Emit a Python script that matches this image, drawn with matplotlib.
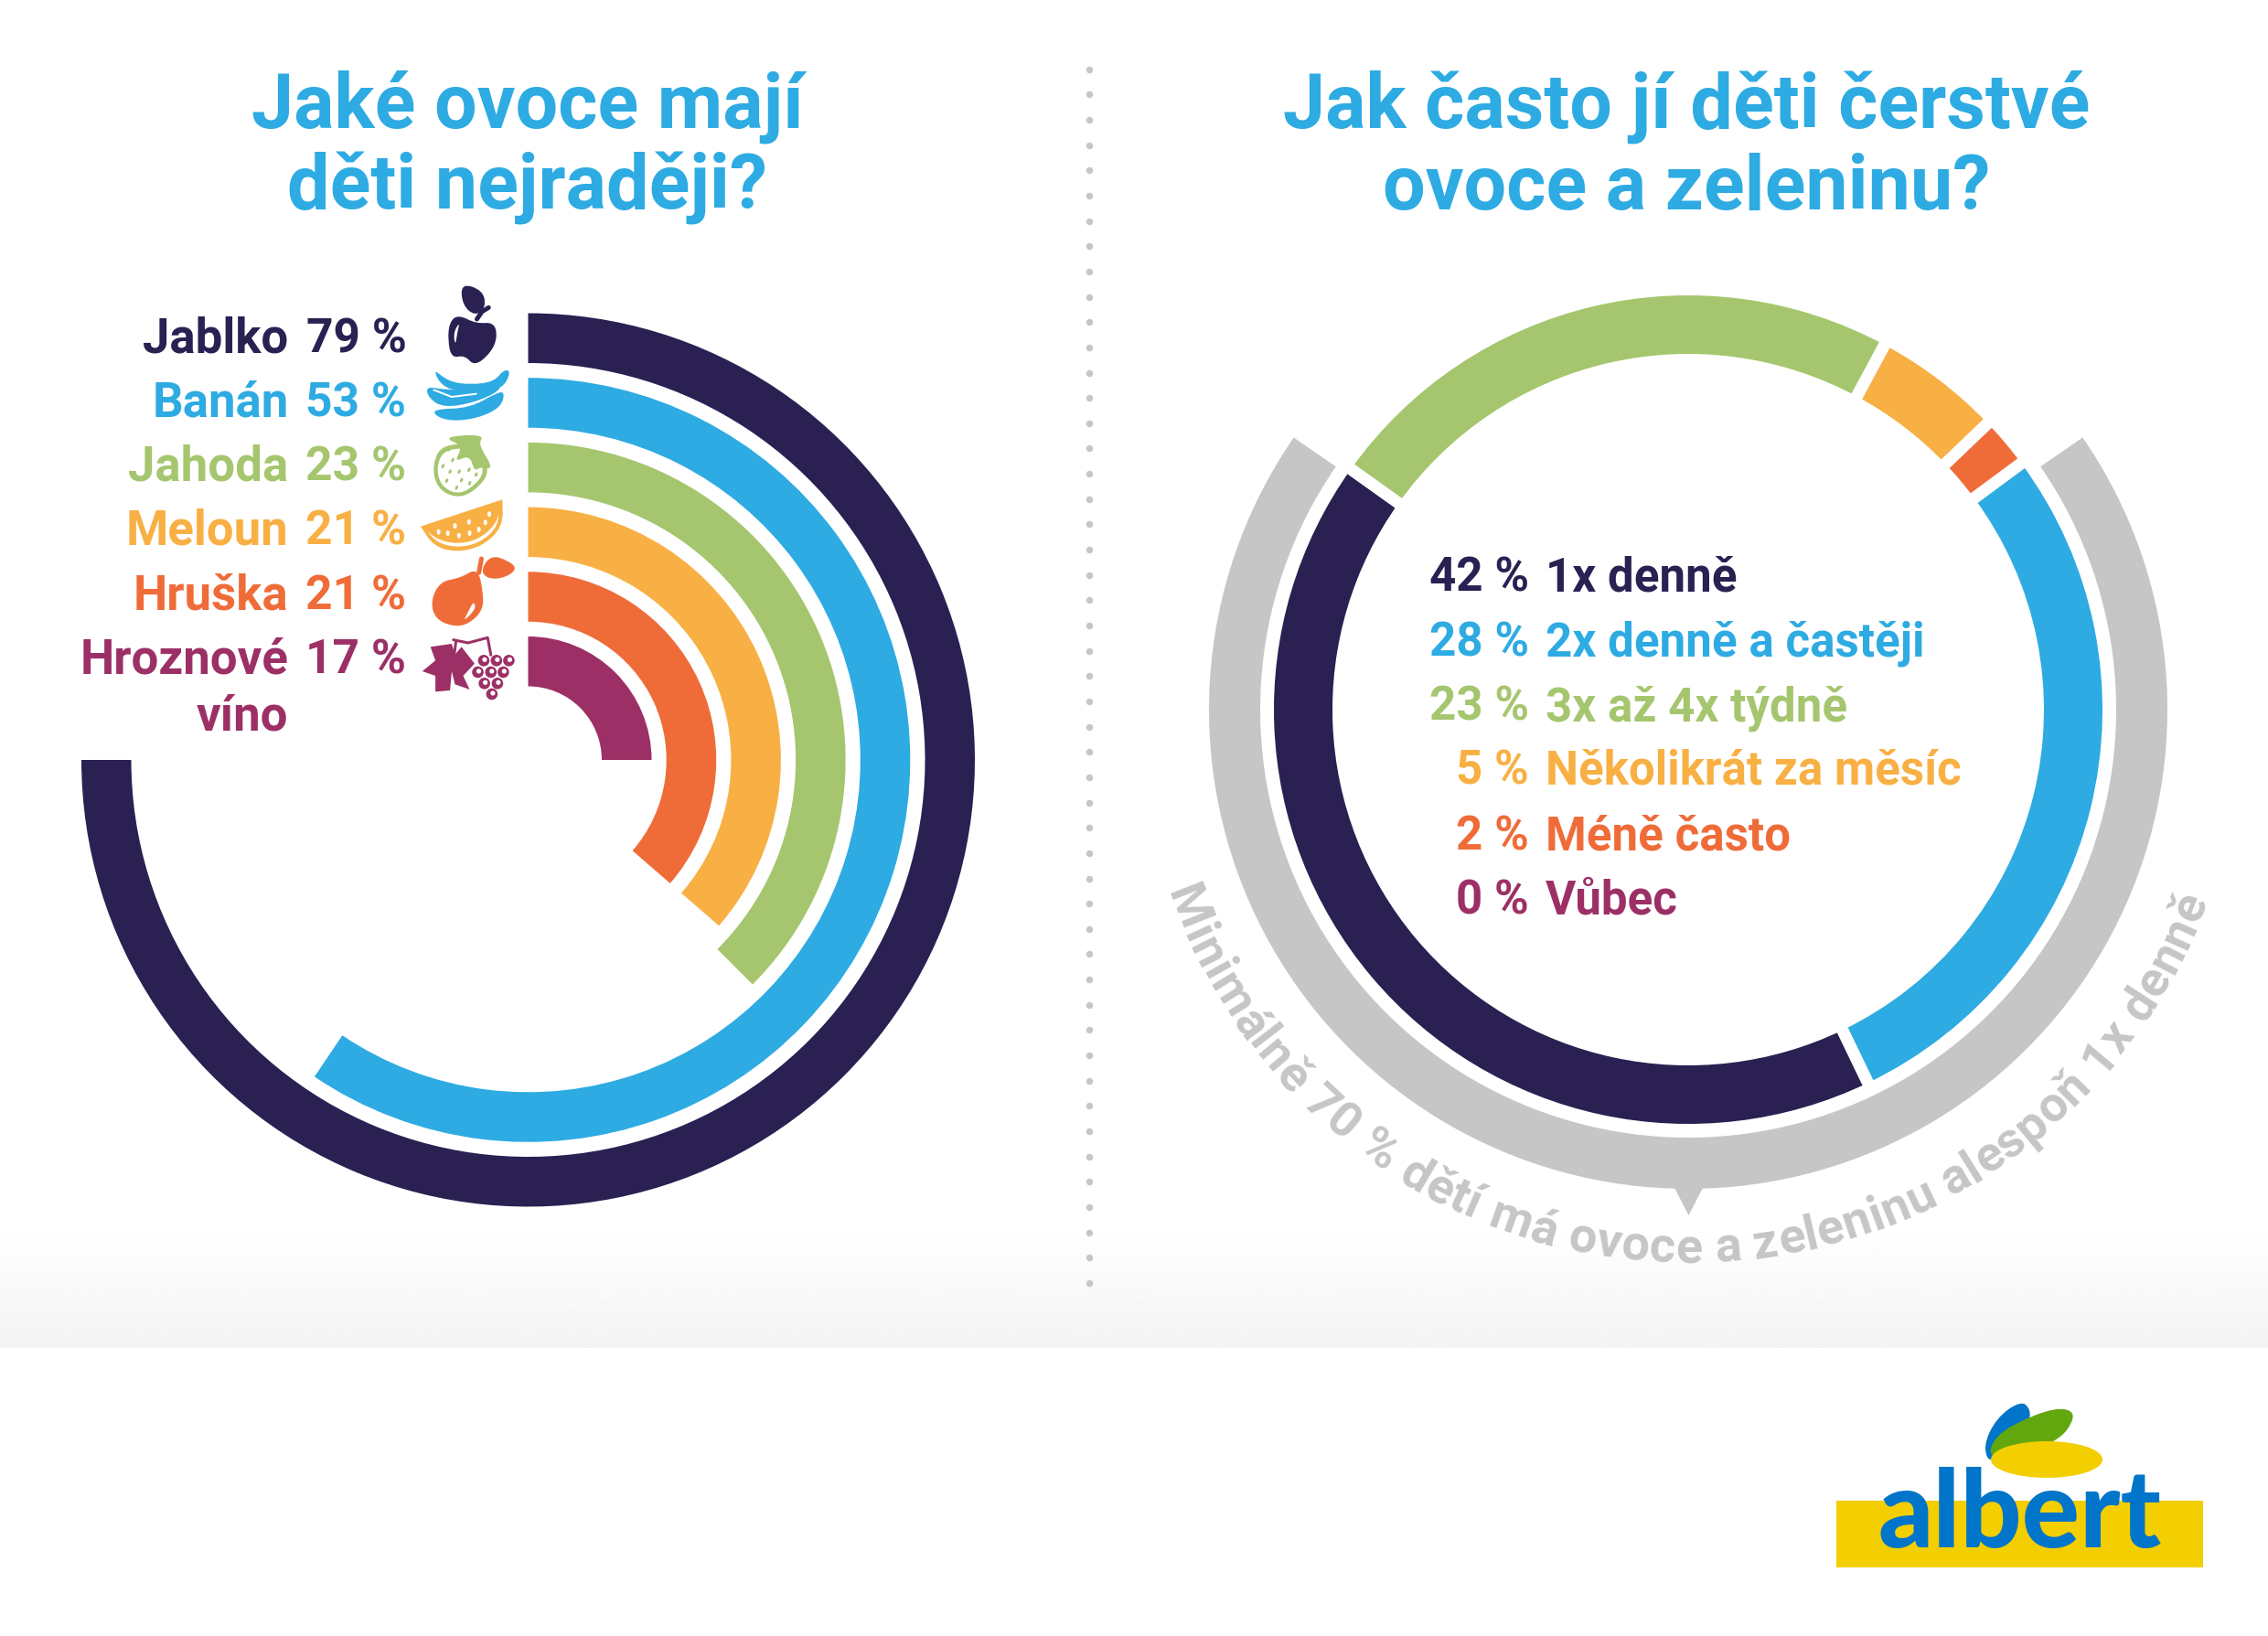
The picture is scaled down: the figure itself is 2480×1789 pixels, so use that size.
import numpy as np
import matplotlib
matplotlib.use('Agg')
import matplotlib.pyplot as plt
from matplotlib.path import Path
from matplotlib.patches import PathPatch, Circle, Ellipse, Polygon, Rectangle
from matplotlib.font_manager import FontProperties

W, H = 2480, 1790

# left chart
fruit_names = ['Jablko', 'Banán', 'Jahoda', 'Meloun', 'Hruška', 'Hroznové\nvíno']
fruit_pct = [79, 53, 23, 21, 21, 17]
# the sweep in the picture does not follow the percent, so it is read off separately
fruit_sweep = [270, 214, 135, 131, 131, 90]
fruit_colors = ['#2A2052', '#2DABE2', '#A5C66E', '#F8B044', '#EF6C39', '#9C3066']

# right chart
freq_names = ['1x denně', '2x denně a častěji', '3x až 4x týdně', 'Několikrát za měsíc', 'Méně často', 'Vůbec']
freq_pct = [42, 28, 23, 5, 2, 0]
freq_colors = ['#2A2052', '#2DABE2', '#A5C66E', '#F8B044', '#EF6C39', '#9C3066']
# clockwise order of the ring, starting from blue
ring_order = [1, 0, 2, 3, 4]

grey_from, grey_to = 55.4, 304.6
note = 'Minimálně 70 % dětí má ovoce a zeleninu alespoň 1x denně'

BLUE = '#2DABE2'
GREY = '#C6C6C6'
FONT = 'Roboto'
LABEL = 51.5


def px(v):
    return v * 72 / 100


def polar_ax(cx, cy, R):
    ax = fig.add_axes([(cx - R) / W, 1 - (cy + R) / H, 2 * R / W, 2 * R / H], projection='polar')
    ax.set_theta_zero_location('N')
    ax.set_theta_direction(-1)
    ax.set_ylim(0, R)
    ax.axis('off')
    ax.patch.set_alpha(0)
    return ax


def smooth(pts, color, zorder=5):
    pts = np.array(pts, float)
    n = len(pts)
    verts = [(pts[0] + pts[1]) / 2]
    codes = [Path.MOVETO]
    for i in range(1, n + 1):
        verts.append(pts[i % n])
        verts.append((pts[i % n] + pts[(i + 1) % n]) / 2)
        codes += [Path.CURVE3, Path.CURVE3]
    p = PathPatch(Path(verts, codes), fc=color, ec='none', zorder=zorder)
    main.add_patch(p)


def ic(pts):
    return [(60 + x / 2.8, 290 + y / 3) for x, y in pts]


def lg(pts):
    return [(1950 + x / 2.958, 1480 + y / 2.958) for x, y in pts]


def stroke(pts, color, lw, zorder=6):
    xy = np.array(pts)
    main.plot(xy[:, 0], xy[:, 1], color=color, lw=px(lw), solid_capstyle='round', zorder=zorder)


def draw_icons():
    navy, blue, green, orange, red, purple = fruit_colors
    # apple
    smooth(ic([(1235, 165), (1290, 195), (1345, 190), (1355, 240), (1335, 290), (1285, 335), (1255, 298),
               (1215, 308), (1203, 250), (1208, 190)]), navy)
    smooth(ic([(1240, 188), (1220, 225), (1226, 268), (1232, 225)]), 'white', 6)
    stroke(ic([(1292, 180), (1308, 155), (1328, 142)]), navy, 5)
    smooth(ic([(1243, 62), (1310, 85), (1320, 140), (1288, 170), (1248, 135)]), navy)
    # banana
    smooth(ic([(1155, 340), (1205, 385), (1275, 395), (1345, 385), (1375, 345), (1397, 352), (1370, 410),
               (1290, 422), (1190, 410)]), blue)
    smooth(ic([(1135, 400), (1195, 412), (1280, 412), (1360, 385), (1365, 415), (1280, 455), (1190, 470),
               (1145, 440)]), blue)
    stroke(ic([(1160, 412), (1215, 435), (1290, 425)]), 'white', 2)
    smooth(ic([(1160, 475), (1270, 472), (1355, 420), (1378, 420), (1365, 470), (1295, 505), (1215, 515),
               (1165, 498)]), blue)
    # strawberry
    smooth(ic([(1185, 590), (1295, 590), (1335, 680), (1285, 745), (1230, 768), (1170, 735), (1155, 660)]), green)
    smooth(ic([(1195, 605), (1285, 605), (1320, 680), (1275, 735), (1230, 755), (1180, 725), (1168, 660)]), 'white', 6)
    for x, y in [(1207, 607), (1218, 642), (1188, 662), (1210, 680), (1238, 680), (1268, 674), (1200, 710),
                 (1245, 708), (1270, 718), (1230, 733), (1290, 690)]:
        main.add_patch(Ellipse(ic([(x, y)])[0], 3, 5, angle=25, fc=green, ec='none', zorder=7))
    smooth(ic([(1195, 572), (1240, 560), (1315, 562), (1295, 590), (1345, 672), (1300, 665), (1285, 680),
               (1270, 625), (1222, 650), (1250, 595)]), green, 8)
    # melon
    smooth(ic([(1120, 860), (1120, 860), (1370, 772), (1370, 772), (1372, 860), (1310, 925), (1230, 945),
               (1160, 925)]), orange)
    smooth(ic([(1135, 868), (1135, 868), (1358, 790), (1358, 790), (1358, 860), (1300, 915), (1230, 930),
               (1168, 912)]), 'white', 6)
    smooth(ic([(1125, 860), (1125, 860), (1365, 775), (1365, 775), (1355, 850), (1295, 905), (1225, 918),
               (1165, 900)]), orange, 7)
    for x, y in [(1175, 878), (1203, 882), (1225, 858), (1237, 890), (1268, 845), (1270, 882), (1298, 870),
                 (1318, 847), (1330, 820)]:
        main.add_patch(Ellipse(ic([(x, y)])[0], 4, 6, fc='white', ec='none', zorder=8))
    # pear
    smooth(ic([(1240, 1030), (1295, 995), (1312, 1080), (1310, 1135), (1270, 1178), (1225, 1190), (1165, 1165),
               (1150, 1105), (1180, 1040)]), red)
    smooth(ic([(1282, 1105), (1290, 1130), (1248, 1175), (1268, 1135)]), 'white', 6)
    stroke(ic([(1306, 966), (1298, 1012)]), red, 5)
    smooth(ic([(1305, 1000), (1335, 955), (1385, 970), (1418, 1000), (1370, 1032), (1320, 1030)]), red)
    # grapes
    main.add_patch(Polygon(ic([(1125, 1335), (1165, 1300), (1150, 1255), (1215, 1245), (1225, 1280), (1245, 1255),
                               (1285, 1310), (1250, 1350), (1270, 1395), (1225, 1378), (1215, 1335), (1210, 1398),
                               (1165, 1402), (1165, 1350)]), fc=purple, ec='none', zorder=5))
    stroke(ic([(1220, 1232), (1265, 1242), (1325, 1225), (1335, 1282)]), purple, 3)
    stroke(ic([(1228, 1238), (1222, 1285)]), purple, 3)
    for x, y in [(1313, 1300), (1352, 1300), (1390, 1300), (1295, 1338), (1335, 1338), (1373, 1338), (1315, 1375),
                 (1355, 1375), (1338, 1410)]:
        c = ic([(x, y)])[0]
        main.add_patch(Circle(c, 6.3, fc=purple, ec='none', zorder=5))
        main.add_patch(Circle((c[0] + 1, c[1] - 1), 2.6, fc='white', ec='none', zorder=6))


def draw_logo():
    main.add_patch(Rectangle((2008, 1642), 401, 73, fc='#F3CE00', ec='none', zorder=3))
    smooth(lg([(672, 365), (645, 305), (690, 210), (770, 155), (800, 185), (795, 225), (720, 265)]), '#0075C9', 4)
    smooth(lg([(662, 355), (680, 270), (800, 205), (905, 175), (950, 205), (885, 295)]), '#63A70F', 4.5)
    main.add_patch(Ellipse((2238, 1597), 122, 40, fc='#F3CE00', ec='none', zorder=5))
    main.text(2053, 1692, 'albert', color='#0075C9', fontsize=px(118), family='Lato', weight='black',
              ha='left', va='baseline', zorder=6)


def draw_note(cx, cy, r):
    fp = FontProperties(family=FONT, weight='bold', size=px(54))
    rend = fig.canvas.get_renderer()
    width = lambda s: rend.get_text_width_height_descent(s.replace(' ', '\u00a0'), fp, False)[0]
    total = width(note)
    start, end = np.radians(-70.8), np.radians(70)
    for i, ch in enumerate(note):
        if ch == ' ':
            continue
        s = width(note[:i]) + width(ch) / 2
        a = start + (end - start) * s / total
        main.text(cx + r * np.sin(a), cy + r * np.cos(a), ch, rotation=np.degrees(a), rotation_mode='anchor',
                  ha='center', va='baseline', color=GREY, fontproperties=fp)


plt.rcParams['font.family'] = [FONT, 'DejaVu Sans']
fig = plt.figure(figsize=(W / 100, H / 100), dpi=100, facecolor='white')
main = fig.add_axes([0, 0, 1, 1])
main.set_xlim(0, W)
main.set_ylim(H, 0)
main.axis('off')

# floor gradient under the charts
fade = np.linspace(1.0, 0.955, 64)[:, None]
main.imshow(fade, extent=[0, W, 1475, 1340], cmap='gray', vmin=0, vmax=1, aspect='auto', zorder=0)
main.set_xlim(0, W)
main.set_ylim(H, 0)

# dotted divider
dots_y = 76.7 + 27.65 * np.arange(49)
main.scatter(np.full(49, 1190.7), dots_y, s=px(7.5) ** 2, color=GREY, linewidths=0, zorder=2)

# titles
for x, lines in [(577, ['Jaké ovoce mají', 'děti nejraději?']), (1844, ['Jak často jí děti čerstvé', 'ovoce a zeleninu?'])]:
    for y, line in zip([139.5, 228.5], lines):
        main.text(x, y, line, color=BLUE, fontsize=px(82.7), weight='bold', ha='center', va='baseline')

# left radial bars
left = polar_ax(577.5, 832, 500)
ring_out = 488.5
for i, (sweep, col) in enumerate(zip(fruit_sweep, fruit_colors)):
    r_out = ring_out - 70.7 * i
    left.bar(np.radians(sweep / 2), 54.5, width=np.radians(sweep), bottom=r_out - 54.5, color=col, linewidth=0)

label_ys = [385, 455, 525.7, 595.7, 666.7, 736.7]
for name, pct, col, y in zip(fruit_names, fruit_pct, fruit_colors, label_ys):
    parts = name.split('\n')
    main.text(315.5, y, parts[0], color=col, fontsize=px(52.7), weight='bold', ha='right', va='baseline')
    if len(parts) > 1:
        main.text(315.5, y + 61.5, parts[1], color=col, fontsize=px(52.7), weight='bold', ha='right', va='baseline')
    main.text(444.5, y, f'{pct} %', color=col, fontsize=px(LABEL), weight='bold', ha='right', va='baseline')
draw_icons()

# right ring
cx, cy = 1846, 777
right = polar_ax(cx, cy, 560)
gap = 13
theta = 53.5
for i in ring_order:
    sweep = freq_pct[i] * 3.6
    right.bar(np.radians(theta + sweep / 2), 64 + gap, width=np.radians(sweep), bottom=389 - gap / 2,
              color=freq_colors[i], edgecolor='white', linewidth=px(gap), zorder=3)
    theta += sweep
# grey bracket of the at least once a day share
right.bar(np.radians((grey_from + grey_to) / 2), 56, width=np.radians(grey_to - grey_from), bottom=468,
          color=GREY, linewidth=0, zorder=2)
main.add_patch(Polygon([(1829, 1296), (1864, 1296), (1846.5, 1330)], fc=GREY, ec='none', zorder=2))

list_ys = [646, 717, 788, 858, 929, 999]
for name, pct, col, y in zip(freq_names, freq_pct, freq_colors, list_ys):
    main.text(1672, y, f'{pct} %', color=col, fontsize=px(51), weight='bold', ha='right', va='baseline')
    main.text(1690, y, name, color=col, fontsize=px(51), weight='bold', ha='left', va='baseline')

fig.canvas.draw()
draw_note(cx, cy, 604)
draw_logo()

fig.savefig('out.png', dpi=100)
